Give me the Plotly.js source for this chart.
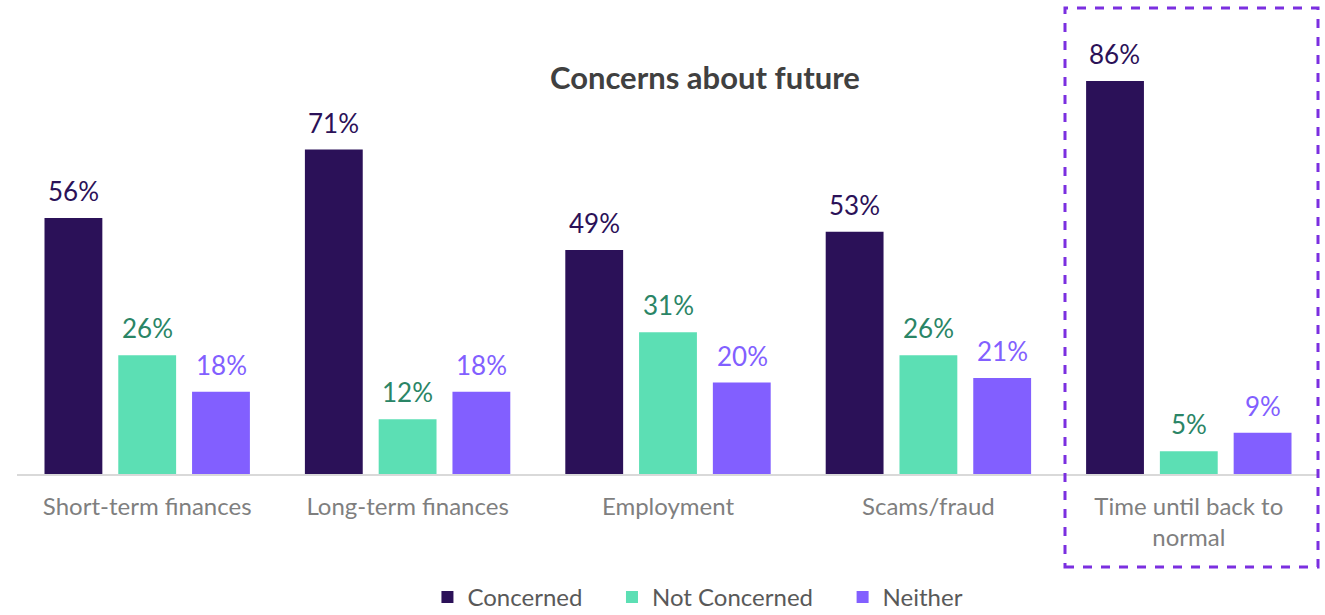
<!DOCTYPE html>
<html>
<head>
<meta charset="utf-8">
<script src="https://cdn.plot.ly/plotly-3.0.1.min.js"></script>
<style>html,body{margin:0;padding:0;background:#fff;overflow:hidden;}#chart{width:1325px;height:615px;}</style>
</head>
<body>
<div id="chart"></div>
<script>
const categories = ["Short-term finances", "Long-term finances", "Employment", "Scams/fraud", "Time until back to<br>normal"];
const concerned = [56, 71, 49, 53, 86];
const notConcerned = [26, 12, 31, 26, 5];
const neither = [18, 18, 20, 21, 9];
const seriesNames = ["Concerned", "Not Concerned", "Neither"];
const barColors = ["#2B1158", "#5CDFB4", "#825FFF"];
const labelColors = ["#2B1158", "#2A8566", "#825FFF"];

const allSeries = [concerned, notConcerned, neither];
const FONT = "Lato, 'Open Sans', sans-serif";
const PAD = "\u00a0\u00a0\u00a0\u00a0";

const traces = allSeries.map((vals, i) => ({
  type: "bar",
  name: i < 2 ? seriesNames[i] + PAD : seriesNames[i],
  x: categories,
  y: vals,
  marker: {color: barColors[i], line: {width: 0}},
  hoverinfo: "none"
}));

const annotations = [];
const offsets = [-74, 0, 74];
allSeries.forEach((vals, i) => {
  vals.forEach((v, j) => {
    annotations.push({
      x: categories[j], y: v, xref: "x", yref: "y",
      text: v + "%", showarrow: false,
      xshift: offsets[i], yanchor: "bottom", yshift: 9,
      font: {family: FONT, size: 26, color: labelColors[i]}
    });
  });
});

const layout = {
  width: 1325, height: 615,
  margin: {l: 17, r: 6, t: 60, b: 141, autoexpand: false},
  paper_bgcolor: "#fff", plot_bgcolor: "#fff",
  barmode: "group", bargap: 0.15, bargroupgap: 0.216,
  title: {text: "<b>Concerns about future</b>", x: 0.532, xanchor: "center", y: 0.873, yanchor: "middle",
          font: {family: FONT, size: 31, color: "#404040"}},
  xaxis: {showline: true, linecolor: "#D9D9D9", linewidth: 2, ticks: "", showgrid: false,
          ticklabelstandoff: 10,
          tickfont: {family: FONT, size: 24, color: "#7F7F7F"}, fixedrange: true},
  yaxis: {range: [0, 90.6], visible: false, showgrid: false, zeroline: false, fixedrange: true},
  showlegend: true,
  legend: {orientation: "h", x: 0.523, xanchor: "center", y: -0.298, yanchor: "middle",
           font: {family: FONT, size: 24, color: "#595959"}, itemwidth: 30, traceorder: "normal"},
  annotations: annotations,
  shapes: [{type: "rect", xref: "paper", yref: "paper",
            x0: (1065 - 17) / 1302, x1: (1318 - 17) / 1302,
            y0: (474 - 567) / 414, y1: (474 - 8) / 414,
            line: {color: "#7B2FE0", width: 3, dash: "dash"}, fillcolor: "rgba(0,0,0,0)"}]
};

Plotly.newPlot("chart", traces, layout, {displayModeBar: false, staticPlot: true});
</script>
</body>
</html>
